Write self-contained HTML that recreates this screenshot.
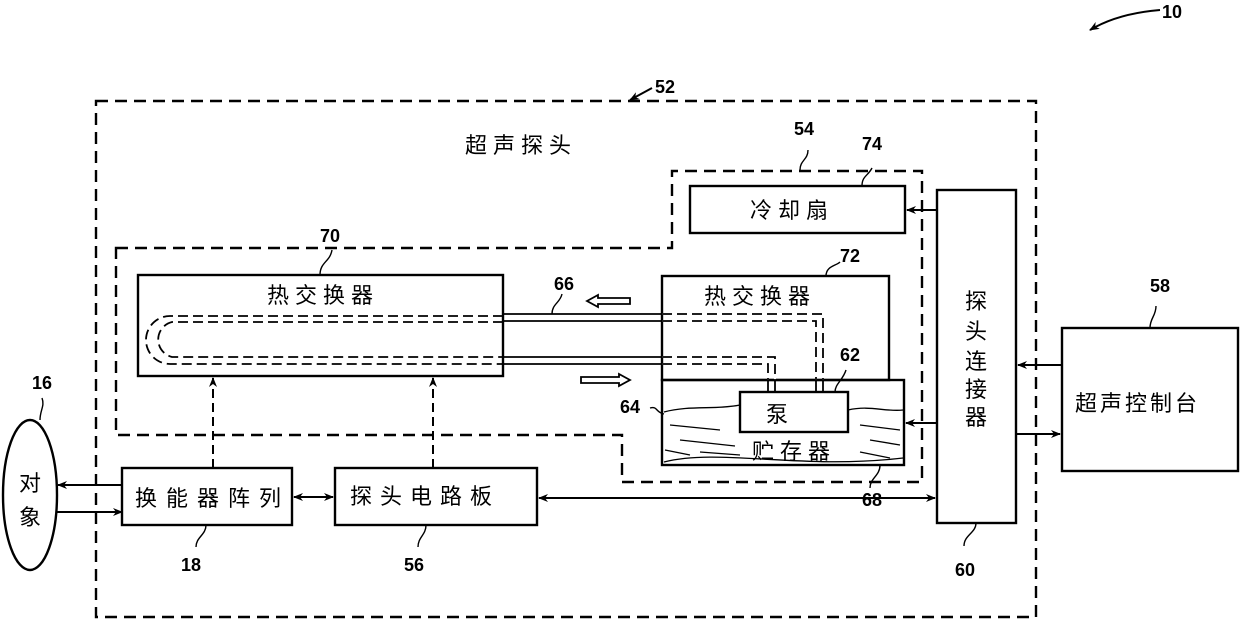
<!DOCTYPE html>
<html><head><meta charset="utf-8"><style>
html,body{margin:0;padding:0;background:#fff}
svg{display:block}
text{font-family:"Liberation Sans","Noto Sans CJK SC",sans-serif;fill:#000}
.cn{font-size:22px;letter-spacing:6px}
.num{font-size:18px;font-weight:bold}
</style></head><body>
<svg width="1240" height="622" viewBox="0 0 1240 622" xmlns="http://www.w3.org/2000/svg">
<defs>
<marker id="a" markerWidth="10" markerHeight="8" refX="9" refY="4" orient="auto" markerUnits="userSpaceOnUse"><path d="M0,0 L10,4 L0,8 L3,4 Z" fill="#000"/></marker>
<marker id="b" markerWidth="10" markerHeight="8" refX="1" refY="4" orient="auto" markerUnits="userSpaceOnUse"><path d="M10,0 L0,4 L10,8 L7,4 Z" fill="#000"/></marker>
</defs>
<g fill="none" stroke="#000" stroke-width="2.4">
<rect x="96" y="101" width="940" height="516" stroke-dasharray="12,7"/>
<path d="M116,248 H672 V171 H922 V482 H622 V435 H116 Z" stroke-dasharray="12,7"/>
<rect x="138" y="275" width="365" height="101"/>
<rect x="662" y="276" width="227" height="104"/>
<rect x="662" y="380" width="242" height="85"/>
<rect x="740" y="392" width="108" height="40" fill="#fff"/>
<rect x="690" y="186" width="215" height="47"/>
<rect x="937" y="190" width="79" height="333"/>
<rect x="1062" y="328" width="176" height="143"/>
<rect x="122" y="468" width="170" height="57"/>
<rect x="335" y="468" width="202" height="57"/>
<ellipse cx="30" cy="495" rx="27" ry="75"/>
</g>
<g fill="none" stroke="#000" stroke-width="1.8">
<path d="M503,314 H823 V392" />
<path d="M503,321 H816 V392" />
<path d="M503,357 H775 V392" />
<path d="M503,364 H768 V392" />
<path d="M503,316 H170 A24,24 0 0 0 170,364 H503" stroke-dasharray="10,5"/>
<path d="M503,322 H172 A18,18 0 0 0 172,357 H503" stroke-dasharray="10,5"/>
<path d="M662,314 H823 V380 M662,321 H816 V380 M662,357 H775 V380 M662,364 H768 V380" stroke="#fff" stroke-width="2"/>
<path d="M662,314 H823 V380 M662,321 H816 V380 M662,357 H775 V380 M662,364 H768 V380" stroke-dasharray="10,5"/>
</g>
<g fill="none" stroke="#000" stroke-width="1.3">
<path d="M664,412 C690,405 715,410 740,405"/>
<path d="M848,410 C870,405 885,412 903,410"/>
<path d="M670,425 L720,430 M680,440 L735,446 M700,452 L740,455 M860,425 L900,430 M870,440 L900,445 M665,450 L690,455 M860,452 L890,458"/>
<path d="M664,462 C720,448 800,470 903,458"/>
</g>
<g fill="#fff" stroke="#000" stroke-width="1.8">
<path d="M587,301 L598,295 V298 H630 V304 H598 V307 Z"/>
<path d="M630,380 L619,374 V377 H581 V383 H619 V386 Z"/>
</g>
<g fill="none" stroke="#000" stroke-width="2">
<path d="M213,468 V378" stroke-dasharray="9,5" marker-end="url(#a)"/>
<path d="M433,468 V378" stroke-dasharray="9,5" marker-end="url(#a)"/>
<path d="M122,485 H58" marker-end="url(#a)"/>
<path d="M57,512 H122" marker-end="url(#a)"/>
<path d="M294,497 H333" marker-start="url(#b)" marker-end="url(#a)"/>
<path d="M539,498 H935" marker-start="url(#b)" marker-end="url(#a)"/>
<path d="M937,210 H907" marker-end="url(#a)"/>
<path d="M937,423 H906" marker-end="url(#a)"/>
<path d="M1062,365 H1018" marker-end="url(#a)"/>
<path d="M1016,434 H1060" marker-end="url(#a)"/>
<path d="M1160,10 C1135,12 1110,18 1090,30" marker-end="url(#a)"/>
<path d="M652,88 L630,100" marker-end="url(#a)"/>
</g>
<g fill="none" stroke="#000" stroke-width="1.4">
<path d="M320,275 C320,262 330,262 332,250"/>
<path d="M826,276 C826,266 836,266 840,262"/>
<path d="M800,170 C800,160 808,160 808,150"/>
<path d="M862,186 C862,176 868,176 872,168"/>
<path d="M552,314 C552,304 560,303 562,294"/>
<path d="M835,392 C835,384 843,380 846,370"/>
<path d="M650,408 C658,406 655,412 664,414"/>
<path d="M880,465 C880,476 870,478 870,488"/>
<path d="M40,420 C40,410 45,406 42,398"/>
<path d="M206,525 C206,535 196,537 196,547"/>
<path d="M426,525 C426,535 418,537 418,547"/>
<path d="M976,523 C976,533 964,535 964,546"/>
<path d="M1150,328 C1150,318 1156,316 1156,306"/>
</g>
<text class="cn" x="465" y="153">超声探头</text>
<text class="cn" x="750" y="218">冷却扇</text>
<text class="cn" x="267" y="303">热交换器</text>
<text class="cn" x="704" y="304">热交换器</text>
<text class="cn" x="766" y="422">泵</text>
<text class="cn" x="752" y="459">贮存器</text>
<text class="cn" x="1075" y="411" style="letter-spacing:3px">超声控制台</text>
<text class="cn" x="135" y="506" style="letter-spacing:9px">换能器阵列</text>
<text class="cn" x="350" y="504" style="letter-spacing:8px">探头电路板</text>
<text class="cn" x="19" y="491">对</text>
<text class="cn" x="19" y="525">象</text>
<text class="cn" x="965" y="309">探</text>
<text class="cn" x="965" y="339">头</text>
<text class="cn" x="965" y="369">连</text>
<text class="cn" x="965" y="397">接</text>
<text class="cn" x="965" y="425">器</text>
<text class="num" x="1162" y="18">10</text>
<text class="num" x="655" y="93">52</text>
<text class="num" x="794" y="135">54</text>
<text class="num" x="862" y="150">74</text>
<text class="num" x="320" y="242">70</text>
<text class="num" x="840" y="262">72</text>
<text class="num" x="554" y="290">66</text>
<text class="num" x="840" y="361">62</text>
<text class="num" x="620" y="413">64</text>
<text class="num" x="862" y="506">68</text>
<text class="num" x="1150" y="292">58</text>
<text class="num" x="32" y="389">16</text>
<text class="num" x="181" y="571">18</text>
<text class="num" x="404" y="571">56</text>
<text class="num" x="955" y="576">60</text>
</svg>
</body></html>
